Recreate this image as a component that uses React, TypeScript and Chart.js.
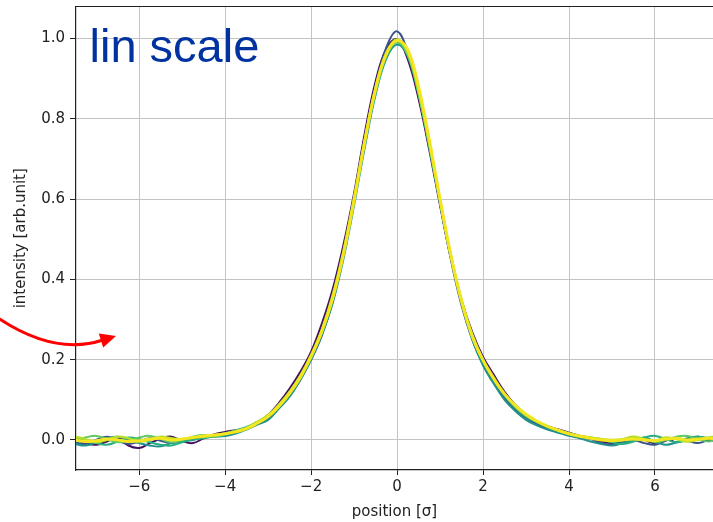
import React, { useEffect, useRef } from "react";
import { Chart, registerables } from "chart.js";
Chart.register(...registerables);

const X_VALUES = [
  -7.5, -7.25, -7.0, -6.75, -6.5, -6.25, -6.0, -5.75, -5.5, -5.25, -5.0, -4.75, -4.5, -4.25,
  -4.0, -3.75, -3.5, -3.25, -3.0, -2.75, -2.5, -2.25, -2.0, -1.75, -1.5, -1.25, -1.0, -0.75, -0.5, -0.25,
  0.0, 0.25, 0.5, 0.75, 1.0, 1.25, 1.5, 1.75, 2.0, 2.25, 2.5, 2.75, 3.0, 3.25, 3.5, 3.75, 4.0,
  4.25, 4.5, 4.75, 5.0, 5.25, 5.5, 5.75, 6.0, 6.25, 6.5, 6.75, 7.0, 7.25, 7.5,
];

const SERIES_1 = [
  0.002, -0.008, -0.012, -0.004, 0.006, -0.014, -0.020, -0.008, 0.003, 0.008, -0.003, -0.008, 0.004, 0.014,
  0.020, 0.024, 0.028, 0.040, 0.062, 0.092, 0.128, 0.170, 0.220, 0.290, 0.375, 0.485, 0.615, 0.765, 0.893, 0.975,
  0.998, 0.948, 0.850, 0.722, 0.584, 0.454, 0.348, 0.268, 0.207, 0.162, 0.120, 0.087, 0.062, 0.045, 0.034, 0.026, 0.018,
  0.010, 0.004, -0.004, -0.008, -0.004, 0.004, 0.000, -0.008, 0.004, -0.006, 0.002, 0.008, 0.001, -0.004,
];
const SERIES_2 = [
  -0.006, -0.010, 0.000, 0.008, -0.002, -0.010, -0.004, 0.004, -0.002, -0.008, 0.000, 0.004, 0.008, 0.010,
  0.012, 0.020, 0.030, 0.045, 0.055, 0.080, 0.112, 0.150, 0.200, 0.260, 0.345, 0.460, 0.600, 0.750, 0.880, 0.978,
  1.018, 0.965, 0.865, 0.735, 0.590, 0.450, 0.335, 0.250, 0.190, 0.145, 0.105, 0.075, 0.055, 0.040, 0.030, 0.020, 0.012,
  0.006, 0.002, -0.008, -0.012, -0.004, 0.000, -0.008, -0.012, -0.002, 0.004, -0.002, -0.008, 0.000, 0.006,
];
const SERIES_3 = [
  -0.010, -0.014, -0.006, 0.004, 0.008, 0.000, -0.008, -0.014, -0.016, -0.008, -0.004, 0.000, 0.006, 0.008,
  0.010, 0.016, 0.026, 0.038, 0.050, 0.078, 0.108, 0.150, 0.200, 0.262, 0.340, 0.450, 0.585, 0.730, 0.860, 0.950,
  0.985, 0.955, 0.860, 0.735, 0.595, 0.460, 0.340, 0.250, 0.185, 0.140, 0.100, 0.072, 0.050, 0.036, 0.026, 0.018, 0.010,
  0.004, -0.004, -0.010, -0.014, -0.008, -0.002, 0.006, -0.004, -0.012, -0.006, 0.004, 0.008, 0.002, -0.004,
];
const SERIES_4 = [
  0.006, 0.000, -0.008, -0.012, -0.004, 0.006, 0.002, -0.006, -0.012, -0.014, -0.006, 0.002, 0.004, 0.010,
  0.016, 0.024, 0.032, 0.044, 0.062, 0.085, 0.118, 0.158, 0.210, 0.272, 0.355, 0.465, 0.600, 0.745, 0.875, 0.960,
  0.992, 0.960, 0.865, 0.730, 0.590, 0.455, 0.345, 0.258, 0.195, 0.150, 0.110, 0.080, 0.058, 0.044, 0.032, 0.022, 0.014,
  0.008, 0.004, 0.000, -0.006, -0.010, -0.004, 0.006, 0.010, 0.002, -0.006, 0.000, 0.008, 0.004, 0.000,
];
const SERIES_5 = [
  -0.002, 0.006, 0.010, 0.002, -0.006, -0.002, 0.006, 0.010, 0.002, -0.006, 0.000, 0.008, 0.012, 0.008,
  0.014, 0.022, 0.030, 0.042, 0.060, 0.082, 0.115, 0.155, 0.205, 0.268, 0.350, 0.458, 0.592, 0.738, 0.865, 0.955,
  0.990, 0.958, 0.862, 0.732, 0.592, 0.458, 0.345, 0.258, 0.198, 0.152, 0.112, 0.082, 0.060, 0.045, 0.033, 0.024, 0.016,
  0.010, 0.006, 0.002, -0.004, 0.000, 0.006, 0.002, -0.006, 0.000, 0.008, 0.010, 0.002, -0.004, 0.004,
];
const SERIES_6 = [
  0.008, 0.002, -0.006, 0.000, 0.008, 0.004, -0.004, 0.000, 0.008, 0.004, 0.002, 0.006, 0.008, 0.012,
  0.016, 0.022, 0.030, 0.045, 0.062, 0.088, 0.120, 0.160, 0.212, 0.275, 0.360, 0.470, 0.605, 0.750, 0.878, 0.965,
  0.998, 0.965, 0.870, 0.740, 0.598, 0.462, 0.350, 0.262, 0.200, 0.155, 0.115, 0.085, 0.062, 0.046, 0.034, 0.024, 0.016,
  0.010, 0.006, 0.002, 0.000, 0.002, 0.008, 0.002, -0.002, 0.006, 0.002, -0.004, 0.000, 0.006, 0.008,
];
const SERIES_7 = [
  0.000, -0.004, -0.002, 0.002, 0.000, -0.004, -0.002, 0.002, 0.004, 0.000, 0.002, 0.006, 0.010, 0.012,
  0.015, 0.020, 0.028, 0.042, 0.058, 0.084, 0.116, 0.156, 0.208, 0.270, 0.352, 0.462, 0.598, 0.745, 0.875, 0.962,
  0.995, 0.972, 0.880, 0.748, 0.600, 0.460, 0.345, 0.258, 0.198, 0.152, 0.114, 0.086, 0.064, 0.047, 0.034, 0.024, 0.015,
  0.009, 0.004, 0.000, -0.002, 0.000, 0.002, 0.000, -0.002, 0.002, 0.004, 0.000, 0.002, 0.004, 0.002,
];

const SERIES = [SERIES_1, SERIES_2, SERIES_3, SERIES_4, SERIES_5, SERIES_6, SERIES_7];
const SERIES_COLORS = ["#46105f", "#3b528b", "#21918c", "#28ae80", "#5ec962", "#b5de2b", "#f4e61e"];
const SERIES_WIDTHS = [2, 2, 2, 2, 2, 2.4, 3];

const X_TICKS = [-6, -4, -2, 0, 2, 4, 6];
const X_TICK_LABELS = ["\u22126", "\u22124", "\u22122", "0", "2", "4", "6"];
const Y_TICKS = [0, 0.2, 0.4, 0.6, 0.8, 1.0];
const Y_TICK_LABELS = ["0.0", "0.2", "0.4", "0.6", "0.8", "1.0"];

const X_MIN = -7.47;
const X_MAX = 7.35;
const Y_MIN = -0.075;
const Y_MAX = 1.08;

const X_TITLE = "position [\u03c3]";
const Y_TITLE = "intensity [arb.unit]";
const NOTE = "lin scale";

const FONT = "'DejaVu Sans', sans-serif";

const overlay = {
  id: "overlay",
  afterDraw(chart: any) {
    const { ctx, chartArea: a } = chart;
    ctx.save();
    // top spine
    ctx.strokeStyle = "#222";
    ctx.lineWidth = 1.2;
    ctx.beginPath();
    ctx.moveTo(a.left, a.top);
    ctx.lineTo(a.right, a.top);
    ctx.stroke();
    // note text
    ctx.fillStyle = "#0033a0";
    ctx.font = "47px 'Liberation Sans', Arial, sans-serif";
    ctx.textBaseline = "alphabetic";
    ctx.textAlign = "left";
    ctx.fillText(NOTE, a.left + 13.5, a.top + 55.5);
    // red arrow
    const L = a.left - 76;
    ctx.strokeStyle = "#f00";
    ctx.fillStyle = "#f00";
    ctx.lineWidth = 3;
    ctx.lineCap = "round";
    ctx.beginPath();
    ctx.moveTo(L - 2, 318);
    ctx.quadraticCurveTo(L + 55, 356, L + 103, 340);
    ctx.stroke();
    ctx.beginPath();
    ctx.moveTo(L + 116, 336);
    ctx.lineTo(L + 103.2, 347.6);
    ctx.lineTo(L + 98.8, 333.4);
    ctx.closePath();
    ctx.fill();
    ctx.restore();
  },
};

export default function App() {
  const ref = useRef<HTMLCanvasElement | null>(null);
  useEffect(() => {
    const canvas = ref.current;
    if (!canvas) return;
    const chart = new Chart(canvas, {
      type: "line",
      data: {
        datasets: SERIES.map((s, i) => ({
          data: s.map((v, j) => ({ x: X_VALUES[j], y: v })),
          borderColor: SERIES_COLORS[i],
          borderWidth: SERIES_WIDTHS[i],
          pointRadius: 0,
          tension: 0.4,
          fill: false,
          clip: 0,
          order: SERIES.length - 1 - i,
        })),
      },
      options: {
        responsive: false,
        animation: false,
        events: [],
        layout: { padding: { left: 0, right: 0, top: 6.5, bottom: 0 } },
        plugins: { legend: { display: false }, tooltip: { enabled: false } },
        scales: {
          x: {
            type: "linear",
            min: X_MIN,
            max: X_MAX,
            afterFit: (s: any) => {
              s.height = 52;
              s.paddingLeft = 0;
              s.paddingRight = 0;
            },
            afterBuildTicks: (s: any) => {
              s.ticks = X_TICKS.map((v) => ({ value: v }));
            },
            ticks: {
              callback: (v: any) => X_TICK_LABELS[X_TICKS.indexOf(Number(v))] ?? "",
              font: { family: FONT, size: 15 },
              color: "#222",
              padding: 3,
              maxRotation: 0,
              autoSkip: false,
            },
            grid: { color: "#c4c4c4", lineWidth: 1, tickColor: "#222", tickLength: 5 },
            border: { color: "#222", width: 1.2 },
            title: {
              display: true,
              text: X_TITLE,
              font: { family: FONT, size: 15 },
              color: "#222",
              padding: { top: 0, bottom: 1 },
            },
          },
          y: {
            type: "linear",
            min: Y_MIN,
            max: Y_MAX,
            afterFit: (s: any) => {
              s.width = 76;
              s.paddingTop = 0;
              s.paddingBottom = 0;
            },
            afterBuildTicks: (s: any) => {
              s.ticks = Y_TICKS.map((v) => ({ value: v }));
            },
            ticks: {
              callback: (v: any) => {
                const i = Y_TICKS.findIndex((t) => Math.abs(t - Number(v)) < 1e-9);
                return i >= 0 ? Y_TICK_LABELS[i] : "";
              },
              font: { family: FONT, size: 15 },
              color: "#222",
              padding: 5,
              autoSkip: false,
            },
            grid: { color: "#c4c4c4", lineWidth: 1, tickColor: "#222", tickLength: 6 },
            border: { color: "#222", width: 1.2 },
            title: {
              display: true,
              text: Y_TITLE,
              font: { family: FONT, size: 15 },
              color: "#222",
              padding: { top: 12, bottom: 0 },
            },
          },
        },
      },
      plugins: [overlay],
    });
    return () => chart.destroy();
  }, []);
  return (
    <div style={{ position: "absolute", left: 0, top: 0, width: 713, height: 522, background: "#fff" }}>
      <canvas ref={ref} width={713} height={522} style={{ display: "block" }} />
    </div>
  );
}
